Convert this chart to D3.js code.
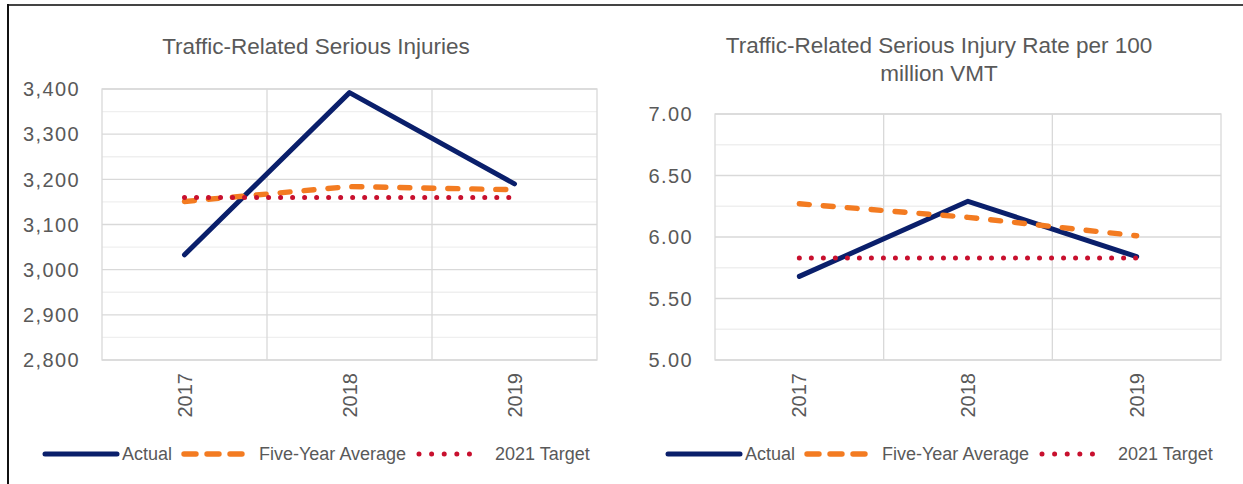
<!DOCTYPE html>
<html>
<head>
<meta charset="utf-8">
<script src="https://cdn.jsdelivr.net/npm/d3@7"></script>
<style>
  html, body { margin: 0; padding: 0; background: #fff; }
  svg { display: block; }
  text { font-family: "Liberation Sans", Arial, sans-serif; fill: #595959; }
</style>
</head>
<body>
<svg id="chart" width="1243" height="484"></svg>
<script>
// ---- data ----
const categories = ["2017", "2018", "2019"];

const injuryActual = [3033, 3392, 3190];
const injuryFiveYearAvg = [3151, 3184, 3177];
const injuryTarget = [3160, 3160, 3160];
const injuryTicks = [2800, 2900, 3000, 3100, 3200, 3300, 3400];

const rateActual = [5.68, 6.29, 5.84];
const rateFiveYearAvg = [6.27, 6.16, 6.01];
const rateTarget = [5.83, 5.83, 5.83];
const rateTicks = [5.00, 5.50, 6.00, 6.50, 7.00];

const seriesNames = ["Actual", "Five-Year Average", "2021 Target"];

// ---- styles ----
const colors = { actual: "#0a1f6b", avg: "#f37b21", target: "#c8102e" };
const styles = [
  { color: colors.actual, dash: null, width: 5 },
  { color: colors.avg, dash: "10 14", width: 5.4 },
  { color: colors.target, dash: "0.01 12", width: 5 }
];

const svg = d3.select("#chart");

// outer frame (top + left only)
svg.append("line").attr("x1", 7).attr("x2", 1243).attr("y1", 5).attr("y2", 5)
  .attr("stroke", "#444").attr("stroke-width", 2);
svg.append("line").attr("x1", 8).attr("x2", 8).attr("y1", 4).attr("y2", 484)
  .attr("stroke", "#111").attr("stroke-width", 2);

function panel(cfg) {
  const g = svg.append("g");
  const x = d3.scaleBand().domain(categories).range([cfg.x0, cfg.x1]).padding(0);
  const y = d3.scaleLinear().domain(cfg.domain).range([cfg.y1, cfg.y0]);
  const cx = c => x(c) + x.bandwidth() / 2;

  // minor gridlines
  const minor = d3.range(cfg.domain[0] + cfg.minor, cfg.domain[1], cfg.minor * 2);
  g.selectAll(".minor").data(minor).join("line")
    .attr("x1", cfg.x0).attr("x2", cfg.x1)
    .attr("y1", d => y(d)).attr("y2", d => y(d))
    .attr("stroke", "#efefef").attr("stroke-width", 1.3);
  // major gridlines
  g.selectAll(".major").data(cfg.ticks).join("line")
    .attr("x1", cfg.x0).attr("x2", cfg.x1)
    .attr("y1", d => y(d)).attr("y2", d => y(d))
    .attr("stroke", "#d9d9d9").attr("stroke-width", 1.3);
  // vertical gridlines at category boundaries
  g.selectAll(".vgrid").data(categories.slice(1)).join("line")
    .attr("x1", d => x(d)).attr("x2", d => x(d))
    .attr("y1", cfg.y0).attr("y2", cfg.y1)
    .attr("stroke", "#d9d9d9").attr("stroke-width", 1.3);
  // plot frame
  g.append("rect").attr("x", cfg.x0).attr("y", y(cfg.domain[1]))
    .attr("width", cfg.x1 - cfg.x0).attr("height", y(cfg.domain[0]) - y(cfg.domain[1]))
    .attr("fill", "none").attr("stroke", "#d9d9d9").attr("stroke-width", 1.3);

  // y tick labels
  g.selectAll(".ylab").data(cfg.ticks).join("text")
    .attr("x", cfg.x0 - 22).attr("y", d => y(d)).attr("dy", "0.36em")
    .attr("text-anchor", "end")
    .style("font-size", "20px").style("letter-spacing", "1.4px")
    .text(cfg.fmt);

  // x tick labels (rotated)
  g.selectAll(".xlab").data(categories).join("text")
    .attr("transform", d => `translate(${cx(d) + 7},373) rotate(-90)`)
    .attr("text-anchor", "end")
    .style("font-size", "20px")
    .text(d => d);

  // title
  const t = g.append("text").attr("text-anchor", "middle").style("font-size", "22.5px");
  cfg.title.forEach((line, i) => {
    t.append("tspan").attr("x", cfg.titleX).attr("y", cfg.titleY + i * 28).text(line);
  });

  // series lines
  const line = d3.line().x((d, i) => cx(categories[i])).y(d => y(d));
  cfg.series.forEach((vals, k) => {
    g.append("path").datum(vals)
      .attr("d", line)
      .attr("fill", "none")
      .attr("stroke", styles[k].color)
      .attr("stroke-width", styles[k].width)
      .attr("stroke-linecap", "round")
      .attr("stroke-linejoin", "round")
      .attr("stroke-dasharray", styles[k].dash);
  });

  // legend
  const ox = cfg.legendOx, ly = 454;
  const items = [
    { x1: 45, x2: 117, tx: 122 },
    { x1: 184, x2: 247, tx: 259 },
    { x1: 419, x2: 482, tx: 495 }
  ];
  items.forEach((it, k) => {
    g.append("line").attr("x1", ox + it.x1).attr("x2", ox + it.x2)
      .attr("y1", ly).attr("y2", ly)
      .attr("stroke", styles[k].color).attr("stroke-width", styles[k].width)
      .attr("stroke-linecap", "round")
      .attr("stroke-dasharray", k === 1 ? "12 11" : (k === 2 ? "0.01 12.6" : null));
    g.append("text").attr("x", ox + it.tx).attr("y", ly).attr("dy", "0.36em")
      .style("font-size", "18px").text(seriesNames[k]);
  });
}

panel({
  x0: 102, x1: 597, y0: 89, y1: 360,
  domain: [2800, 3400], ticks: injuryTicks, minor: 50,
  fmt: d3.format(","),
  title: ["Traffic-Related Serious Injuries"], titleX: 316, titleY: 54,
  series: [injuryActual, injuryFiveYearAvg, injuryTarget],
  legendOx: 0
});

panel({
  x0: 715, x1: 1221, y0: 114, y1: 360,
  domain: [5, 7], ticks: rateTicks, minor: 0.25,
  fmt: d3.format(".2f"),
  title: ["Traffic-Related Serious Injury Rate per 100", "million VMT"], titleX: 939, titleY: 53,
  series: [rateActual, rateFiveYearAvg, rateTarget],
  legendOx: 623
});
</script>
</body>
</html>
